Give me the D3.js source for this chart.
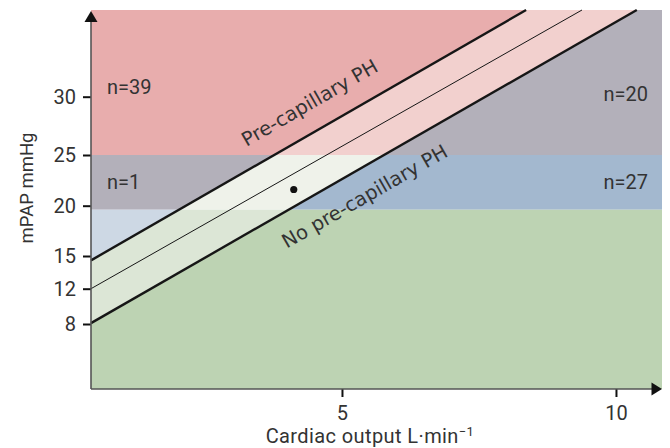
<!DOCTYPE html>
<html>
<head>
<meta charset="utf-8">
<script src="https://cdn.jsdelivr.net/npm/d3@7"></script>
<style>
body { margin: 0; background: #fff; }
svg  { display: block; }
</style>
</head>
<body>
<script>
// values
var xTicks     = [5, 10];
var yTicks     = [8, 12, 15, 20, 25, 30];
var xExtent    = [0.42, 10.84];
var yStops     = [0, 8, 12, 15, 20, 25, 30, 37.5];
var bandCuts   = [25, 19.6];                 // mPAP limits of the horizontal bands
var lineUpper  = [[0.42, 14.6], [8.36, 37.5]];
var lineMiddle = [[0.42, 12.0], [9.38, 37.5]];
var lineLower  = [[0.42, 8.1],  [10.38, 37.5]];
var groupLabels = ["n=39", "n=1", "n=20", "n=27"];
var patientDot = [4.12, 21.6];
var colAbove   = ["#e8adad", "#b3b0ba", "#cdd8e4"];
var colBand    = ["#f2d0ce", "#eff2ea", "#dce6d6"];
var colBelow   = ["#b3b0ba", "#a3b8cf", "#bdd3b3"];

// layout
var v_W = 670, v_H = 448;
var v_Left = 91, v_Right = 662, v_Top = 10, v_Bottom = 389;
var v_YStopPx = [389, 324, 288.7, 256, 205.7, 155, 96.7, 10];   // schematic (non uniform) y axis

var v_SVG = d3.select("body").append("svg").attr("width", v_W).attr("height", v_H);

var x = d3.scaleLinear().domain(xExtent).range([v_Left, v_Right]);
var y = d3.scaleLinear().domain(yStops).range(v_YStopPx);

var yMin = yStops[0], yMax = yStops[yStops.length - 1];

// three zones split by the thick lines
var zones = [
    { id: "above", cols: colAbove, pts: [[xExtent[0], yMax], lineUpper[0], lineUpper[1]] },
    { id: "band",  cols: colBand,  pts: [lineUpper[0], lineUpper[1], lineLower[1], lineLower[0]] },
    { id: "below", cols: colBelow, pts: [lineLower[0], lineLower[1], [xExtent[1], yMax], [xExtent[1], yMin], [xExtent[0], yMin]] }
];
var bands = [[yMax, bandCuts[0]], [bandCuts[0], bandCuts[1]], [bandCuts[1], yMin]];

var v_Defs = v_SVG.append("defs");
zones.forEach(function (z) {
    v_Defs.append("clipPath").attr("id", "clip_" + z.id)
        .append("polygon")
        .attr("points", z.pts.map(function (p) { return x(p[0]) + "," + y(p[1]); }).join(" "));

    v_SVG.append("g").attr("clip-path", "url(#clip_" + z.id + ")")
        .selectAll("rect").data(bands).enter().append("rect")
        .attr("x", x(xExtent[0]))
        .attr("width", x(xExtent[1]) - x(xExtent[0]) + 1)
        .attr("y", function (d) { return y(d[0]); })
        .attr("height", function (d) { return y(d[1]) - y(d[0]); })
        .attr("fill", function (d, i) { return z.cols[i]; });
});

// PVR lines
var v_Line = d3.line().x(function (d) { return x(d[0]); }).y(function (d) { return y(d[1]); });
v_SVG.append("path").attr("d", v_Line(lineUpper)).attr("stroke", "#161616").attr("stroke-width", 2.4).attr("fill", "none");
v_SVG.append("path").attr("d", v_Line(lineMiddle)).attr("stroke", "#161616").attr("stroke-width", 1).attr("fill", "none");
v_SVG.append("path").attr("d", v_Line(lineLower)).attr("stroke", "#161616").attr("stroke-width", 2.4).attr("fill", "none");

// patient point
v_SVG.append("circle").attr("cx", x(patientDot[0])).attr("cy", y(patientDot[1])).attr("r", 3.6).attr("fill", "#111");

// labels along the lines
function lineLabel(i_Line, i_Px, i_Shift, i_Text)
{
    var x1 = x(i_Line[0][0]), y1 = y(i_Line[0][1]);
    var x2 = x(i_Line[1][0]), y2 = y(i_Line[1][1]);
    var v_Ang = Math.atan2(y2 - y1, x2 - x1) * 180 / Math.PI;
    var v_Py  = y1 + (y2 - y1) * (i_Px - x1) / (x2 - x1) + i_Shift;
    v_SVG.append("text")
        .attr("transform", "translate(" + i_Px + "," + v_Py + ") rotate(" + v_Ang + ")")
        .attr("text-anchor", "middle")
        .attr("font-family", "DejaVu Sans")
        .attr("font-size", 19.5)
        .attr("fill", "#333")
        .text(i_Text);
}
lineLabel(lineUpper, 313, -24, "Pre-capillary PH");
lineLabel(lineLower, 368, 38, "No pre-capillary PH");

// group counts
var v_NPos = [
    { x: v_Left + 16,  y: 94,  anchor: "start" },
    { x: v_Left + 16,  y: 189, anchor: "start" },
    { x: v_Right - 14, y: 101, anchor: "end" },
    { x: v_Right - 14, y: 189, anchor: "end" }
];
v_SVG.selectAll("text.n").data(groupLabels).enter().append("text")
    .attr("class", "n")
    .attr("x", function (d, i) { return v_NPos[i].x; })
    .attr("y", function (d, i) { return v_NPos[i].y; })
    .attr("text-anchor", function (d, i) { return v_NPos[i].anchor; })
    .attr("font-family", "Roboto")
    .attr("font-size", 20)
    .attr("fill", "#333")
    .text(function (d) { return d; });

// axes
var v_XAxis = v_SVG.append("g").attr("transform", "translate(0," + v_Bottom + ")")
    .call(d3.axisBottom(x).tickValues(xTicks).tickSize(8).tickPadding(9));
var v_YAxis = v_SVG.append("g").attr("transform", "translate(" + v_Left + ",0)")
    .call(d3.axisLeft(y).tickValues(yTicks).tickSize(8).tickPadding(7));

[v_XAxis, v_YAxis].forEach(function (g) {
    g.select(".domain").remove();
    g.selectAll(".tick line").attr("stroke", "#111").attr("stroke-width", 2);
    g.selectAll(".tick text").attr("font-family", "Roboto").attr("font-size", 20).attr("fill", "#333");
});

// axis lines with arrows
v_SVG.append("line").attr("x1", v_Left).attr("y1", v_Bottom).attr("x2", v_Left).attr("y2", v_Top + 8)
    .attr("stroke", "#555").attr("stroke-width", 1.6);
v_SVG.append("line").attr("x1", v_Left).attr("y1", v_Bottom).attr("x2", v_Right - 8).attr("y2", v_Bottom)
    .attr("stroke", "#555").attr("stroke-width", 1.6);
v_SVG.append("path")
    .attr("d", "M" + v_Left + "," + (v_Top + 1) + " L" + (v_Left + 6.5) + "," + (v_Top + 12) + " L" + (v_Left - 6.5) + "," + (v_Top + 12) + "Z")
    .attr("fill", "#111");
v_SVG.append("path")
    .attr("d", "M" + v_Right + "," + v_Bottom + " L" + (v_Right - 10.5) + "," + (v_Bottom - 6.5) + " L" + (v_Right - 10.5) + "," + (v_Bottom + 6.5) + "Z")
    .attr("fill", "#111");

// axis titles
var v_XTitle = v_SVG.append("text")
    .attr("x", 370).attr("y", 443)
    .attr("text-anchor", "middle")
    .attr("font-family", "Roboto").attr("font-size", 20).attr("letter-spacing", 0.4).attr("fill", "#333");
v_XTitle.append("tspan").text("Cardiac output L\u00b7min");
v_XTitle.append("tspan").attr("font-size", 13).attr("dy", -7).text("\u22121");

v_SVG.append("text")
    .attr("transform", "translate(33,188) rotate(-90)")
    .attr("text-anchor", "middle")
    .attr("font-family", "Roboto").attr("font-size", 18.5).attr("fill", "#333")
    .text("mPAP mmHg");
</script>
</body>
</html>
